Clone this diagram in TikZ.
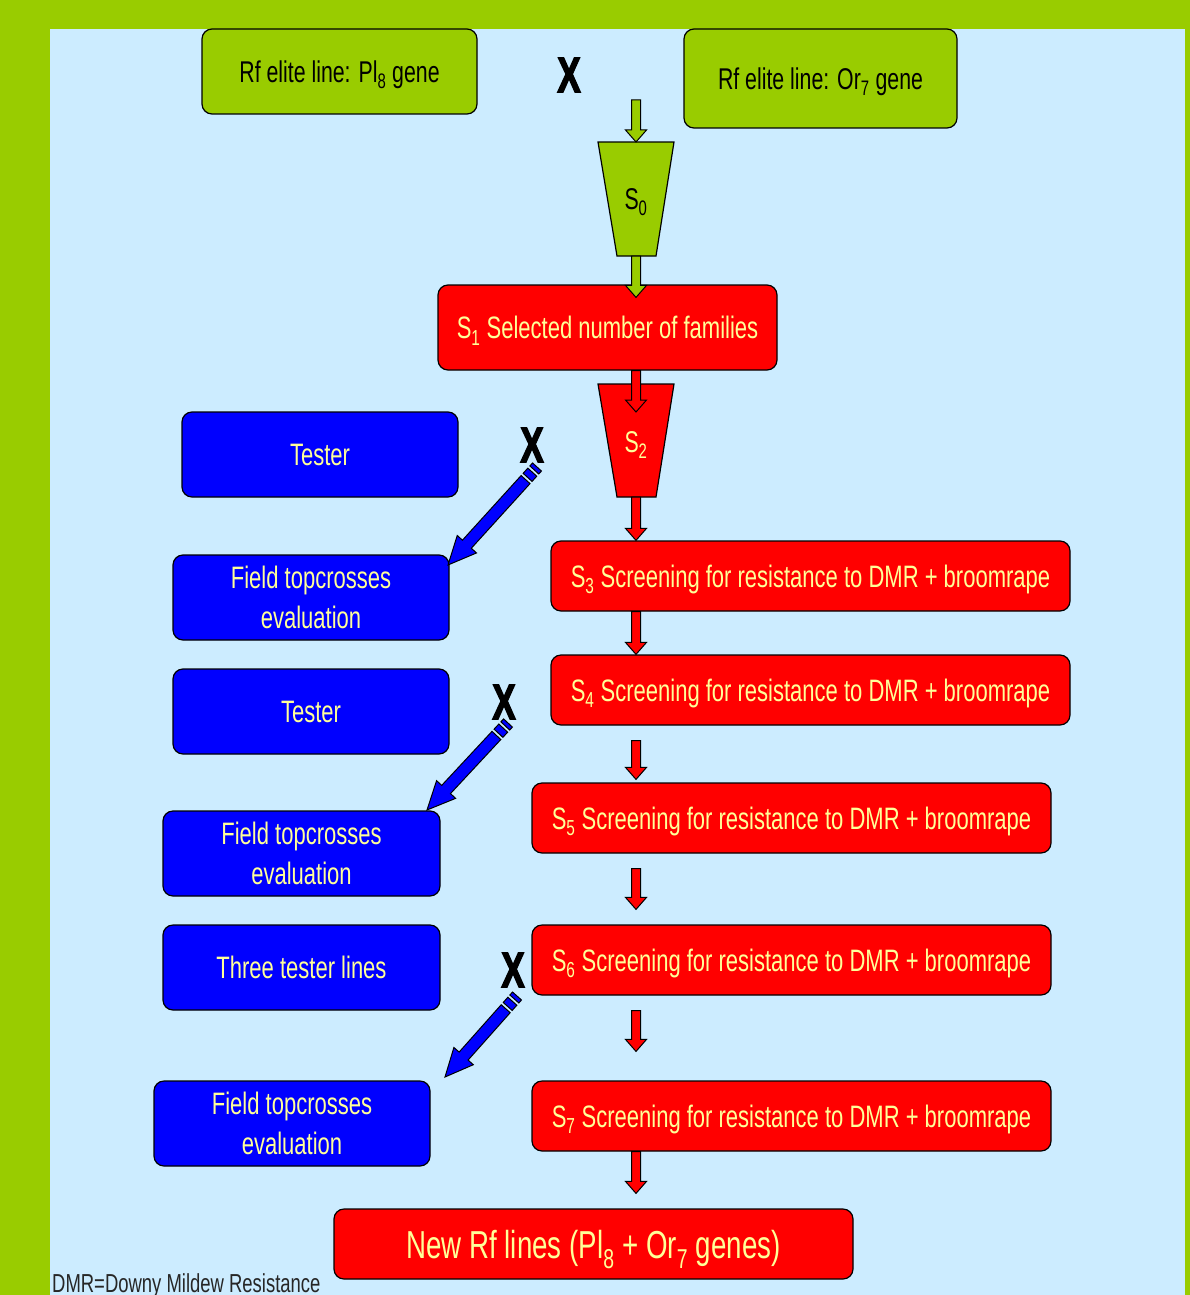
\documentclass[tikz,border=0pt]{standalone}
\usepackage{fontspec}
\setmainfont[FakeStretch=0.71]{Liberation Sans}
\newfontfamily\xfont[FakeStretch=0.7,FakeBold=2.5]{Liberation Sans Bold}
\usetikzlibrary{calc}
\definecolor{lgr}{HTML}{99CC00}
\definecolor{bgc}{HTML}{CCECFF}
\definecolor{rd}{HTML}{FF0000}
\definecolor{bl}{HTML}{0000FF}
\definecolor{ylw}{HTML}{FFFF99}

\newcommand\arrowsetup[2]{%
  \path let \p1=#1, \p2=#2 in \pgfextra{%
    \pgfmathsetmacro\tmpang{atan2(\y2-\y1,\x2-\x1)}\global\let\baang\tmpang
    \pgfmathsetmacro\tmplen{veclen(\x2-\x1,\y2-\y1)}\global\let\balen\tmplen
    \pgfmathsetmacro\tmpx{\x1}\global\let\bax\tmpx
    \pgfmathsetmacro\tmpy{\y1}\global\let\bay\tmpy};}

\newcommand\blockarrow[3]{%
  \arrowsetup{#2}{#3}%
  \pgfmathsetmacro\bab{\balen-12}%
  \begin{scope}[shift={(\bax pt,\bay pt)}, rotate=\baang]
    \filldraw[fill=#1, arrowline] (0pt,-4.5pt) -- (\bab pt,-4.5pt) -- (\bab pt,-10.5pt)
      -- (\balen pt,0pt) -- (\bab pt,10.5pt) -- (\bab pt,4.5pt) -- (0pt,4.5pt) -- cycle;
  \end{scope}}

\newcommand\stripearrow[3]{%
  \arrowsetup{#2}{#3}%
  \pgfmathsetmacro\bab{\balen-28}%
  \begin{scope}[shift={(\bax pt,\bay pt)}, rotate=\baang]
    \filldraw[fill=#1, arrowline] (0pt,-6pt) -- (4pt,-6pt) -- (4pt,6pt) -- (0pt,6pt) -- cycle;
    \filldraw[fill=#1, arrowline] (7pt,-6pt) -- (14pt,-6pt) -- (14pt,6pt) -- (7pt,6pt) -- cycle;
    \filldraw[fill=#1, arrowline] (17pt,-6pt) -- (\bab pt,-6pt) -- (\bab pt,-13pt)
      -- (\balen pt,0pt) -- (\bab pt,13pt) -- (\bab pt,6pt) -- (17pt,6pt) -- cycle;
  \end{scope}}

\begin{document}
\begin{tikzpicture}[x=1pt,y=-1pt,
  arrowline/.style={draw=black, line width=1pt, line join=miter},
  box/.style={draw=black, line width=1.2pt, rounded corners=10pt, inner sep=0pt,
    align=center, font=\fontsize{31}{40}\selectfont},
  gbox/.style={box, fill=lgr, text=black, text depth=0pt, font=\fontsize{30}{34}\selectfont},
  rbox/.style={box, fill=rd, text=ylw, text depth=0pt, minimum width=519, minimum height=70},
  bbox/.style={box, fill=bl, text=ylw, minimum width=276, minimum height=85},
  trap/.style={draw=black, line width=1.2pt, line join=miter},
  xmark/.style={inner sep=0pt, font=\fontsize{50}{50}\xfont}]

\fill[lgr] (0,0) rectangle (1190,1295);
\fill[bgc] (50,29) rectangle (1185,1295);
\useasboundingbox (0,0) rectangle (1190,1295);

% top parents
\node[gbox, minimum width=275, minimum height=85] (p1) at (339.5,71.5) {Rf elite line: Pl\textsubscript{8} gene};
\node[gbox, minimum width=273, minimum height=99] (p2) at (820.5,78.5) {Rf elite line: Or\textsubscript{7} gene};
\node[xmark] (x0) at (569,75) {X};
\coordinate (g0) at (636,100);

% S0 trapezoid
\draw[trap, fill=lgr] (598,142) -- (674,142) -- (656,256) -- (617,256) -- cycle;
\node[inner sep=0pt, font=\fontsize{30}{34}\selectfont] (s0) at (636,202) {S\textsubscript{0}};
\coordinate (s0top) at (636,142);
\coordinate (s0bot) at (636,256);

% S1
\node[rbox, minimum width=339, minimum height=85] (s1) at (607.5,327.5) {S\textsubscript{1} Selected number of families};

% S2 trapezoid
\draw[trap, fill=rd] (598,384) -- (674,384) -- (656,497) -- (617,497) -- cycle;
\node[inner sep=0pt, text=ylw, font=\fontsize{30}{34}\selectfont] (s2) at (636,445) {S\textsubscript{2}};
\coordinate (s2top) at (636,384);
\coordinate (s2bot) at (636,497);

% screening boxes
\node[rbox] (s3) at (810.5,576) {S\textsubscript{3} Screening for resistance to DMR + broomrape};
\node[rbox] (s4) at (810.5,690) {S\textsubscript{4} Screening for resistance to DMR + broomrape};
\node[rbox] (s5) at (791.5,818) {S\textsubscript{5} Screening for resistance to DMR + broomrape};
\node[rbox] (s6) at (791.5,960) {S\textsubscript{6} Screening for resistance to DMR + broomrape};
\node[rbox] (s7) at (791.5,1116) {S\textsubscript{7} Screening for resistance to DMR + broomrape};
\node[rbox, font=\fontsize{39}{40}\selectfont] (fin) at (593.5,1244) {New Rf lines (Pl\textsubscript{8} + Or\textsubscript{7} genes)};

% blue boxes
\node[bbox] (t1) at (320,454.5) {Tester};
\node[bbox] (f1) at (311,597.5) {Field topcrosses\\evaluation};
\node[bbox] (t2) at (311,711.5) {Tester};
\node[bbox, minimum width=277] (f2) at (301.5,853.5) {Field topcrosses\\evaluation};
\node[bbox, minimum width=277] (t3) at (301.5,967.5) {Three tester lines};
\node[bbox] (f3) at (292,1123.5) {Field topcrosses\\evaluation};

% X marks
\node[xmark] (x1) at (532,445) {X};
\node[xmark] (x2) at (504,702) {X};
\node[xmark] (x3) at (513,970) {X};
\coordinate (b1s) at (537,467); \coordinate (b1e) at (448,565);
\coordinate (b2s) at (508,723); \coordinate (b2e) at (427,810);
\coordinate (b3s) at (517,996); \coordinate (b3e) at (445,1077);

% vertical arrows
\blockarrow{lgr}{(g0)}{(s0top)}
\blockarrow{lgr}{(s0bot)}{($(s1.north -| s0)+(0,13)$)}
\blockarrow{rd}{(s1.south -| s0)}{($(s2top)+(0,28)$)}
\blockarrow{rd}{(s2bot)}{(s3.north -| s0)}
\blockarrow{rd}{(s3.south -| s0)}{(s4.north -| s0)}
\blockarrow{rd}{($(s4.south -| s0)+(0,15)$)}{($(s5.north -| s0)+(0,-3)$)}
\blockarrow{rd}{($(s5.south -| s0)+(0,15)$)}{($(s6.north -| s0)+(0,-15)$)}
\blockarrow{rd}{($(s6.south -| s0)+(0,15)$)}{($(s7.north -| s0)+(0,-29)$)}
\blockarrow{rd}{(s7.south -| s0)}{($(fin.north -| s0)+(0,-15)$)}

% blue crossing arrows
\stripearrow{bl}{(b1s)}{(b1e)}
\stripearrow{bl}{(b2s)}{(b2e)}
\stripearrow{bl}{(b3s)}{(b3e)}

% footnote
\node[anchor=base west, inner sep=0pt, text=black!85, font=\fontsize{26}{26}\selectfont] (note) at (52,1292) {DMR=Downy Mildew Resistance};
\end{tikzpicture}
\end{document}
